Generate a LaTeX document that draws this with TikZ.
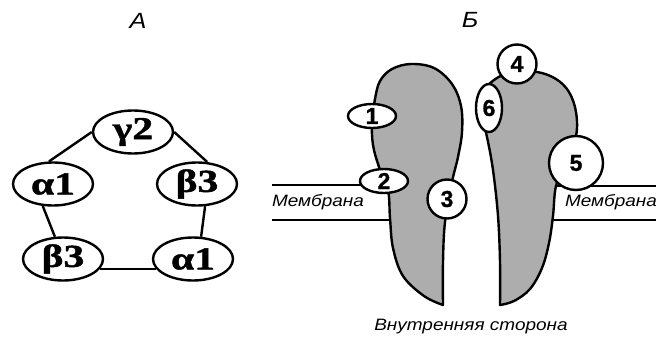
\documentclass[tikz,border=0pt]{standalone}
\usepackage{fontspec}
\usepackage{tikz}
\usetikzlibrary{shapes.geometric}

\setmainfont{Liberation Sans}
\newfontfamily\labelfont[FakeStretch=1.15]{Liberation Sans}
\newfontfamily\greekfont[FakeStretch=1.3,FakeBold=1.5]{Liberation Serif}
\newfontfamily\sitefont[FakeBold=1]{Liberation Sans}

\begin{document}
\begin{tikzpicture}[
    x=1pt, y=-1pt, % pixel-like units, y grows downwards
    line width=2.4pt,
    subunit/.style={
        draw, % oval around each subunit
        ellipse,
        minimum width=80pt,
        minimum height=43pt,
        inner sep=0pt,
        font=\greekfont\bfseries\fontsize{32}{32}\selectfont
    },
    siteoval/.style={
        draw, fill=white, ellipse, inner sep=0pt,
        font=\sitefont\bfseries\fontsize{23}{23}\selectfont
    },
    sitecirc/.style={
        draw, fill=white, circle, inner sep=0pt,
        font=\sitefont\bfseries\fontsize{23}{23}\selectfont
    },
    caption/.style={font=\labelfont\itshape\fontsize{22}{22}\selectfont},
    note/.style={font=\labelfont\itshape\fontsize{16.5}{16.5}\selectfont},
    protein/.style={draw, fill=black!32, line join=round}
]
\useasboundingbox (0,0) rectangle (656,340);

% --- A: ring of five subunits
\node[caption] (capA) at (138,21) {A};

\node[subunit] (gamma2) at (133,132) {γ2};
\node[subunit] (alphaL) at (53,184)  {α1};
\node[subunit] (betaR)  at (197,184) {β3};
\node[subunit] (betaL)  at (63,259)  {β3};
\node[subunit] (alphaR) at (193,259) {α1};

\draw (gamma2.west) -- (alphaL.100);
\draw (gamma2.east) -- (betaR.65);
\draw (alphaL.-115) -- (betaL.110);
\draw (betaR.-70) -- (alphaR.70);
\draw (betaL.-15) -- (alphaR.-165);

% --- Б: cut through the channel
\node[caption] (capB) at (470,20) {Б};

% membrane borders (behind the protein)
\coordinate (memLtop) at (272,185);
\coordinate (memLbot) at (272,220);
\coordinate (memRtop) at (656,186);
\coordinate (memRbot) at (656,220);
\draw[line width=1.8pt] (memLtop) -- (370,185);
\draw[line width=1.8pt] (memLbot) -- (395,220);
\draw[line width=1.8pt] (memRtop) -- (545,186);
\draw[line width=1.8pt] (memRbot) -- (545,220);

\node[note] (memL) at (318,202) {Мембрана};
\node[note] (memR) at (611,202) {Мембрана};

% left half of the pore
\draw[protein] plot[smooth, tension=0.6] coordinates {
    (443,305) (443,262) (445,222) (452,182) (458,157) (462,132)
    (461,106) (452,84) (434,68) (411,64) (392,69) (380,81)
    (375,99) (372,122) (373,145) (379,167) (388,190) (390,218)
    (393,248) (403,276) (424,296) (443,305)} -- cycle;

% right half of the pore
\draw[protein] plot[smooth, tension=0.6] coordinates {
    (500,305) (500,262) (498,216) (493,170) (487,137) (481,112)
    (483,93) (494,80) (512,72) (537,72) (556,79) (569,92)
    (576,112) (576,136) (566,162) (556,186) (553,216) (549,243)
    (542,268) (530,289) (514,301) (500,305)} -- cycle;

% binding sites
\node[siteoval, minimum width=48pt, minimum height=24pt] (site1) at (372,116) {1};
\node[siteoval, minimum width=48pt, minimum height=24pt] (site2) at (384,181) {2};
\node[sitecirc, minimum size=39pt] (site3) at (447,199) {3};
\node[sitecirc, minimum size=39pt] (site4) at (517,64)  {4};
\node[sitecirc, minimum size=54pt] (site5) at (576,163) {5};
\node[siteoval, minimum width=26pt, minimum height=48pt] (site6) at (489,108) {6};

\node[note] (inner) at (471,327) {Внутренняя сторона};
\end{tikzpicture}
\end{document}
